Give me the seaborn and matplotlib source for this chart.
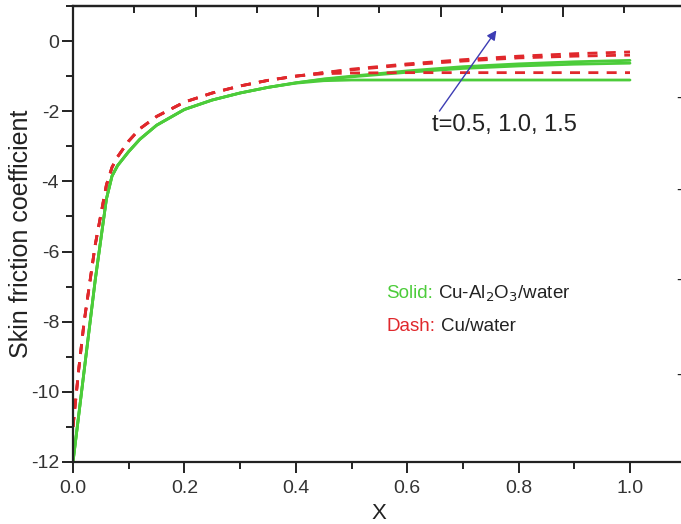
import numpy as np
import pandas as pd
import matplotlib
matplotlib.use("Agg")
import matplotlib.pyplot as plt
from matplotlib.ticker import MultipleLocator, FixedLocator
import seaborn as sns

# Dimensionless coordinate along the surface
x = [0.0, 0.01, 0.02, 0.04, 0.06, 0.07, 0.08, 0.10, 0.12, 0.15, 0.20, 0.25,
     0.30, 0.35, 0.40, 0.45, 0.50, 0.60, 0.70, 0.80, 0.90, 1.00]

# Skin friction coefficient, Cu-Al2O3/water hybrid nanofluid (solid)
cf_hybrid_t05 = [-12.0, -10.7, -9.4, -6.8, -4.5, -3.85, -3.55, -3.15, -2.8, -2.4, -1.95, -1.68,
                 -1.48, -1.32, -1.2, -1.13, -1.11, -1.11, -1.11, -1.11, -1.11, -1.11]
cf_hybrid_t10 = [-12.0, -10.7, -9.4, -6.8, -4.5, -3.85, -3.55, -3.15, -2.8, -2.4, -1.95, -1.68,
                 -1.48, -1.32, -1.19, -1.09, -1.02, -0.89, -0.78, -0.71, -0.66, -0.63]
cf_hybrid_t15 = [-12.0, -10.7, -9.4, -6.8, -4.5, -3.85, -3.55, -3.15, -2.8, -2.4, -1.95, -1.68,
                 -1.48, -1.32, -1.19, -1.08, -1.0, -0.85, -0.73, -0.65, -0.59, -0.55]

# Skin friction coefficient, Cu/water nanofluid (dashed)
cf_cu_t05 = [-11.0, -9.4, -8.0, -5.8, -4.1, -3.6, -3.3, -2.85, -2.5, -2.15, -1.74, -1.48,
             -1.28, -1.12, -1.0, -0.93, -0.91, -0.9, -0.9, -0.9, -0.9, -0.9]
cf_cu_t10 = [-11.0, -9.4, -8.0, -5.8, -4.1, -3.6, -3.3, -2.85, -2.5, -2.15, -1.74, -1.48,
             -1.28, -1.12, -1.0, -0.9, -0.82, -0.68, -0.57, -0.48, -0.43, -0.40]
cf_cu_t15 = [-11.0, -9.4, -8.0, -5.8, -4.1, -3.6, -3.3, -2.85, -2.5, -2.15, -1.74, -1.48,
             -1.28, -1.12, -1.0, -0.9, -0.8, -0.65, -0.53, -0.43, -0.36, -0.31]

x_ticks = [0.0, 0.2, 0.4, 0.6, 0.8, 1.0]
x_ticklabels = ["0.0", "0.2", "0.4", "0.6", "0.8", "1.0"]
y_ticks = [0, -2, -4, -6, -8, -10, -12]

GREEN = "#4ccc3a"
RED = "#e0282c"
BLUE = "#3d3db4"
INK = "#222222"

sns.set_style("ticks")
plt.rcParams["font.family"] = ["Liberation Sans", "DejaVu Sans"]

fig = plt.figure(figsize=(6.81, 5.24), dpi=100)
ax = fig.add_axes([73 / 681, 1 - 462 / 524, (685.7 - 73) / 681, (462 - 6) / 524])

for cf in (cf_hybrid_t05, cf_hybrid_t10, cf_hybrid_t15):
    sns.lineplot(x=x, y=cf, ax=ax, color=GREEN, lw=2.0, estimator=None, sort=False)
for cf in (cf_cu_t05, cf_cu_t10, cf_cu_t15):
    line = sns.lineplot(x=x, y=cf, ax=ax, color=RED, lw=2.0, estimator=None, sort=False).lines[-1]
    line.set_dashes((3.6, 3.0))

ax.set_xlim(0, 1.1)
ax.set_ylim(-12, 1)
ax.set_xticks(x_ticks)
ax.set_xticklabels(x_ticklabels)
ax.set_yticks(y_ticks)
ax.set_yticklabels([str(v) for v in y_ticks])
ax.xaxis.set_minor_locator(MultipleLocator(0.1))
ax.yaxis.set_minor_locator(MultipleLocator(1))
ax.tick_params(which="major", direction="out", length=8, width=1.4, labelsize=14,
               colors=INK, labelcolor="#333333")
ax.tick_params(which="minor", direction="out", length=5, width=1.4, colors=INK)
ax.tick_params(axis="x", pad=5)
ax.tick_params(axis="y", pad=2)

for side in ("left", "bottom", "top", "right"):
    ax.spines[side].set_linewidth(1.6)
    ax.spines[side].set_color(INK)

# Top axis ticks pointing inward
top = ax.secondary_xaxis("top")
top.xaxis.set_major_locator(FixedLocator([0.22 * k for k in range(6)]))
top.xaxis.set_minor_locator(FixedLocator([0.11 + 0.22 * k for k in range(5)]))
top.tick_params(which="major", direction="in", length=8, width=1.4, labeltop=False,
                colors=INK)
top.tick_params(which="minor", direction="in", length=5, width=1.4, colors=INK)
top.spines["top"].set_linewidth(1.6)
top.spines["top"].set_color(INK)

ax.set_xlabel("X", fontsize=16, color=INK, labelpad=4)
ax.set_ylabel("Skin friction coefficient", fontsize=18, color=INK)
ax.yaxis.set_label_coords(-(73 - 33) / (685.7 - 73), 0.5)

# Arrow showing growth with t
ax.annotate("", xy=(0.763, 0.37), xytext=(0.655, -2.06),
            arrowprops=dict(arrowstyle="-|>", color=BLUE, lw=1.0,
                            mutation_scale=14))
ax.text(0.645, -2.38, "t=0.5, 1.0, 1.5", fontsize=17, color=INK,
        ha="left", va="center")

# Line-style key
solid = ax.text(0.562, -7.2, "Solid:", fontsize=13.5, color=GREEN, ha="left", va="center")
ax.annotate("Cu-Al$_2$O$_3$/water", xy=(1, 0.5), xycoords=solid, xytext=(4, 0),
            textcoords="offset points", fontsize=13.5, color=INK, ha="left", va="center")
dash = ax.text(0.562, -8.15, "Dash:", fontsize=13.5, color=RED, ha="left", va="center")
ax.annotate("Cu/water", xy=(1, 0.5), xycoords=dash, xytext=(4, 0),
            textcoords="offset points", fontsize=13.5, color=INK, ha="left", va="center")

# Tick marks of the adjoining panel at the right edge
for ypx in (98, 190, 280, 375):
    fig.text(676 / 681, 1 - ypx / 524, "-", fontsize=13, color=INK,
             ha="left", va="center")

fig.savefig("out.png", dpi=100)
